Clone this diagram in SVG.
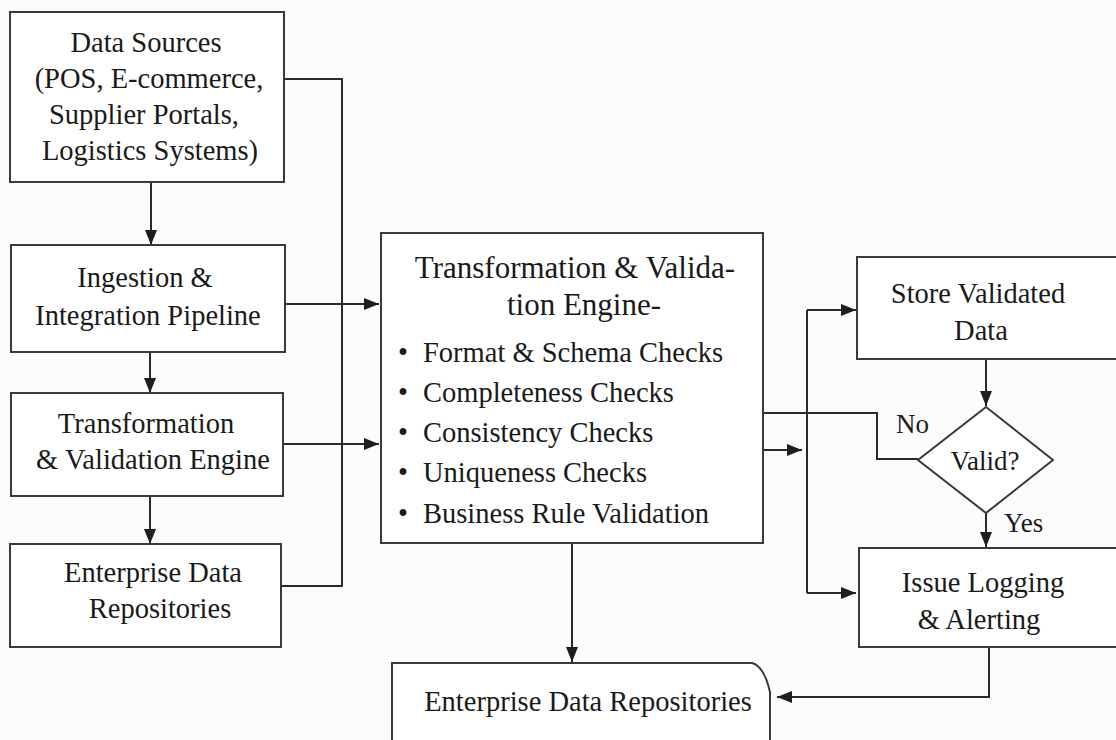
<svg xmlns="http://www.w3.org/2000/svg" width="1116" height="740" viewBox="0 0 1116 740">
  <defs>
    <marker id="arrow" viewBox="0 0 15 12" refX="15" refY="6" markerWidth="15" markerHeight="12" markerUnits="userSpaceOnUse" orient="auto">
      <path d="M0,0 L15,6 L0,12 z" fill="#1e1e1e"/>
    </marker>
    <style>
      .box { fill: #ffffff; stroke: #3a3a3a; stroke-width: 2; }
      .line { fill: none; stroke: #2a2a2a; stroke-width: 2; }
      .arr { fill: none; stroke: #2a2a2a; stroke-width: 2; marker-end: url(#arrow); }
      text { font-size: 28.5px; fill: #1a1a1a; }
      .c { text-anchor: middle; }
      .title { font-size: 31px; }
      .lbl { font-size: 27px; }
    </style>
  </defs>

  <rect x="0" y="0" width="1116" height="740" fill="#fcfcfc"/>

  <g font-family="Liberation Serif, DejaVu Serif, serif">
  <!-- connectors -->
  <g id="connectors">
    <path class="arr" d="M151,182 V245"/>
    <path class="arr" d="M150,352 V393"/>
    <path class="arr" d="M150,496 V544"/>
    <path class="line" d="M284,79 H342 V586 H281"/>
    <path class="arr" d="M285,304 H379"/>
    <path class="arr" d="M283,444 H379"/>
    <path class="arr" d="M572,543 V662"/>
    <path class="arr" d="M763,450 H802"/>
    <path class="line" d="M807,310 V593"/>
    <path class="arr" d="M807,310 H856"/>
    <path class="arr" d="M807,593 H856"/>
    <path class="line" d="M763,413 H877 V459 H918"/>
    <path class="arr" d="M986,359 V406"/>
    <path class="arr" d="M986,513 V547"/>
    <path class="arr" d="M989,647 V697 H777"/>
    <text class="lbl" x="896" y="433">No</text>
    <text class="lbl" x="1004" y="532">Yes</text>
  </g>

  <!-- left column -->
  <g id="data-sources">
    <rect class="box" x="10" y="12" width="274" height="170"/>
    <text class="c" x="146" y="52">Data Sources</text>
    <text class="c" x="149" y="88">(POS, E-commerce,</text>
    <text class="c" x="144" y="124">Supplier Portals,</text>
    <text class="c" x="150" y="160">Logistics Systems)</text>
  </g>

  <g id="ingestion">
    <rect class="box" x="11" y="245" width="274" height="107"/>
    <text class="c" x="145" y="287">Ingestion &amp;</text>
    <text class="c" x="148" y="325">Integration Pipeline</text>
  </g>

  <g id="transform-left">
    <rect class="box" x="11" y="393" width="272" height="103"/>
    <text class="c" x="146" y="433">Transformation</text>
    <text class="c" x="153" y="469">&amp; Validation Engine</text>
  </g>

  <g id="repo-left">
    <rect class="box" x="10" y="544" width="271" height="103"/>
    <text class="c" x="153" y="582">Enterprise Data</text>
    <text class="c" x="160" y="618">Repositories</text>
  </g>

  <!-- central engine -->
  <g id="engine">
    <rect class="box" x="381" y="233" width="382" height="310"/>
    <text class="c title" x="575" y="278">Transformation &amp; Valida-</text>
    <text class="c title" x="584" y="315">tion Engine-</text>
    <text x="398" y="362">•</text>
    <text x="423" y="362">Format &amp; Schema Checks</text>
    <text x="398" y="402">•</text>
    <text x="423" y="402">Completeness Checks</text>
    <text x="398" y="442">•</text>
    <text x="423" y="442">Consistency Checks</text>
    <text x="398" y="482">•</text>
    <text x="423" y="482">Uniqueness Checks</text>
    <text x="398" y="523">•</text>
    <text x="423" y="523">Business Rule Validation</text>
  </g>

  <!-- right column -->
  <g id="store">
    <rect class="box" x="857" y="257" width="270" height="102"/>
    <text class="c" x="978" y="303">Store Validated</text>
    <text class="c" x="981" y="340">Data</text>
  </g>

  <g id="valid">
    <path class="box" d="M986,407 L1053,460 L986,513 L918,460 Z"/>
    <text class="c lbl" x="985" y="470">Valid?</text>
  </g>

  <g id="issue">
    <rect class="box" x="859" y="548" width="270" height="99"/>
    <text class="c" x="983" y="592">Issue Logging</text>
    <text class="c" x="979" y="629">&amp; Alerting</text>
  </g>

  <!-- bottom repository -->
  <g id="repo-bottom">
    <path class="box" d="M392,750 V663 H752 Q764,666 770,692 V750"/>
    <text class="c" x="588" y="711">Enterprise Data Repositories</text>
  </g>
  </g>
</svg>
